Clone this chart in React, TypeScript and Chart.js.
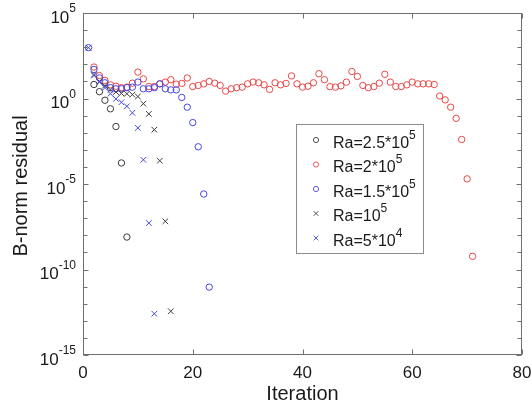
import React, { useEffect, useRef } from 'react';
import { Chart, registerables } from 'chart.js';

Chart.register(...registerables);

// ---------- data ----------
const iterRa25e5 = [2, 3, 4, 5, 6, 7, 8];
const resRa25e5 = [6.6, 2.5, 0.79, 0.25, 0.023, 1.7e-4, 7.9e-9];

const iterRa2e5 = [
  2, 3, 4, 5, 6, 7, 8, 9, 10, 11,
  12, 13, 14, 15, 16, 17, 18, 19, 20, 21,
  22, 23, 24, 25, 26, 27, 28, 29, 30, 31,
  32, 33, 34, 35, 36, 37, 38, 39, 40, 41,
  42, 43, 44, 45, 46, 47, 48, 49, 50, 51,
  52, 53, 54, 55, 56, 57, 58, 59, 60, 61,
  62, 63, 64, 65, 66, 67, 68, 69, 70, 71,
];
const resRa2e5 = [
  69, 22, 11.5, 6.3, 5.2, 4.3, 4.6, 7.9, 35, 14,
  5.0, 5.0, 7.2, 9.1, 12.6, 6.9, 7.6, 15.8, 5.0, 5.8,
  7.2, 10, 7.9, 5.8, 2.7, 3.7, 4.3, 4.6, 7.2, 9.1,
  8.3, 6.3, 3.4, 8.3, 6.3, 7.6, 21, 7.2, 4.6, 5.2,
  8.3, 28, 12.6, 4.9, 4.6, 5.5, 9.1, 38, 19.5, 5.8,
  4.3, 5.0, 7.9, 26, 9.1, 5.0, 5.0, 6.3, 9.1, 7.2,
  7.2, 7.2, 6.6, 1.4, 0.83, 0.31, 0.069, 0.004, 2.0e-5, 5.9e-10,
];

const iterRa15e5 = [1, 2, 3, 4, 5, 6, 7, 8, 9, 10, 11, 12, 13, 14, 15, 16, 17, 18, 19, 20, 21, 22, 23];
const resRa15e5 = [
  940, 50, 16, 8.3, 4.3, 3.7, 3.7, 4.3, 4.6, 9.1,
  3.7, 3.7, 4.3, 7.2, 3.7, 3.2, 3.2, 1.15, 0.31, 0.039,
  1.5e-3, 2.6e-6, 9.3e-12,
];

const iterRa1e5 = [2, 3, 4, 5, 6, 7, 8, 9, 10, 11, 12, 13, 14, 15, 16];
const resRa1e5 = [25, 10, 5.6, 3.2, 2.4, 2.0, 1.9, 1.7, 1.3, 0.5, 0.126, 0.015, 2.3e-4, 6.6e-8, 3.6e-13];

const iterRa5e4 = [1, 2, 3, 4, 5, 6, 7, 8, 9, 10, 11, 12, 13];
const resRa5e4 = [940, 22, 9.1, 4.3, 1.9, 0.95, 0.6, 0.35, 0.145, 0.019, 2.6e-4, 5.2e-8, 2.6e-13];

const seriesLabels = ['Ra=2.5*10^5', 'Ra=2*10^5', 'Ra=1.5*10^5', 'Ra=10^5', 'Ra=5*10^4'];
const xTickValues = [0, 20, 40, 60, 80];
const yTickExponents = [5, 0, -5, -10, -15];
const xTitle = 'Iteration';
const yTitle = 'B-norm residual';

// ---------- styles ----------
const FONT = '"Liberation Sans", Arial, Helvetica, sans-serif';
const TEXT = '#1a1a1a';
const AXIS = '#6e6e6e';
const BLACK = 'rgb(60,60,60)';
const RED = 'rgb(232,70,70)';
const BLUE = 'rgb(70,70,232)';

const seriesStyles = [
  { color: BLACK, style: 'circle' },
  { color: RED, style: 'circle' },
  { color: BLUE, style: 'circle' },
  { color: BLACK, style: 'crossRot' },
  { color: BLUE, style: 'crossRot' },
];

const seriesData = [
  [iterRa25e5, resRa25e5],
  [iterRa2e5, resRa2e5],
  [iterRa15e5, resRa15e5],
  [iterRa1e5, resRa1e5],
  [iterRa5e4, resRa5e4],
];

function drawSupText(ctx: CanvasRenderingContext2D, base: string, sup: string, x: number, y: number, baseSize: number, supSize: number, align: 'left' | 'right', supRaise: number) {
  ctx.textBaseline = 'middle';
  ctx.textAlign = 'left';
  ctx.font = `${baseSize}px ${FONT}`;
  const bw = ctx.measureText(base).width;
  ctx.font = `${supSize}px ${FONT}`;
  const sw = ctx.measureText(sup).width;
  const startX = align === 'left' ? x : x - bw - sw;
  ctx.font = `${baseSize}px ${FONT}`;
  ctx.fillText(base, startX, y);
  ctx.font = `${supSize}px ${FONT}`;
  ctx.fillText(sup, startX + bw, y - supRaise);
}

const matlabPlugin = {
  id: 'matlabAxes',
  afterDraw(chart: any) {
    const ctx: CanvasRenderingContext2D = chart.ctx;
    const xs = chart.scales.x;
    const ys = chart.scales.y;
    const { left, right, top, bottom } = chart.chartArea;
    const L = Math.round(left) + 0.5;
    const R = Math.round(right) - 0.5;
    const T = Math.round(top) + 0.5;
    const B = Math.round(bottom) - 0.5;
    ctx.save();

    // ticks
    ctx.strokeStyle = AXIS;
    ctx.lineWidth = 1;
    ctx.beginPath();
    xTickValues.forEach((v) => {
      const px = Math.round(xs.getPixelForValue(v)) + 0.5;
      ctx.moveTo(px, B); ctx.lineTo(px, B - 5);
      ctx.moveTo(px, T); ctx.lineTo(px, T + 5);
    });
    for (let e = -15; e <= 5; e++) {
      const py = Math.round(ys.getPixelForValue(Math.pow(10, e))) + 0.5;
      const len = e % 5 === 0 ? 5 : 4;
      ctx.moveTo(L, py); ctx.lineTo(L + len, py);
      ctx.moveTo(R, py); ctx.lineTo(R - len, py);
    }
    ctx.stroke();

    // box
    ctx.strokeRect(L, T, R - L, B - T);

    // x tick labels
    ctx.fillStyle = TEXT;
    ctx.font = `17px ${FONT}`;
    ctx.textAlign = 'center';
    ctx.textBaseline = 'middle';
    xTickValues.forEach((v) => {
      ctx.fillText(String(v), xs.getPixelForValue(v), bottom + 18);
    });

    // y tick labels
    yTickExponents.forEach((e) => {
      const py = ys.getPixelForValue(Math.pow(10, e));
      drawSupText(ctx, '10', String(e), left - 7, py + 5, 17, 12, 'right', 9);
    });

    // axis titles
    ctx.font = `20px ${FONT}`;
    ctx.textAlign = 'center';
    ctx.textBaseline = 'middle';
    ctx.fillText(xTitle, (left + right) / 2, 394);
    ctx.save();
    ctx.translate(21, (top + bottom) / 2 + 2);
    ctx.rotate(-Math.PI / 2);
    ctx.fillText(yTitle, 0, 0);
    ctx.restore();

    // legend
    const bx = 296.5, by = 124.5, bw = 127, bh = 129;
    ctx.fillStyle = '#ffffff';
    ctx.fillRect(bx, by, bw, bh);
    ctx.strokeStyle = '#8c8c8c';
    ctx.lineWidth = 1;
    ctx.strokeRect(bx, by, bw, bh);
    seriesLabels.forEach((lab, i) => {
      const cy = 141.5 + i * 24.5;
      const st = seriesStyles[i];
      const mx = 316, my = cy - 1.5;
      ctx.strokeStyle = st.color;
      ctx.lineWidth = 0.9;
      ctx.beginPath();
      if (st.style === 'circle') {
        ctx.arc(mx, my, 2.6, 0, Math.PI * 2);
      } else {
        ctx.moveTo(mx - 2.3, my - 2.3); ctx.lineTo(mx + 2.3, my + 2.3);
        ctx.moveTo(mx + 2.3, my - 2.3); ctx.lineTo(mx - 2.3, my + 2.3);
      }
      ctx.stroke();
      const [base, sup] = lab.split('^');
      ctx.fillStyle = TEXT;
      drawSupText(ctx, base, sup, 333, cy + 2, 16, 12, 'left', 8);
    });

    ctx.restore();
  },
};

export default function App() {
  const canvasRef = useRef<HTMLCanvasElement | null>(null);

  useEffect(() => {
    const canvas = canvasRef.current;
    if (!canvas) return;
    const datasets = seriesData.map(([xsArr, ysArr], i) => ({
      label: seriesLabels[i],
      data: xsArr.map((x, k) => ({ x, y: ysArr[k] })),
      showLine: false,
      pointStyle: seriesStyles[i].style,
      pointRadius: seriesStyles[i].style === 'circle' ? 3.2 : 4,
      pointHoverRadius: seriesStyles[i].style === 'circle' ? 3.2 : 4,
      borderColor: seriesStyles[i].color,
      backgroundColor: 'rgba(0,0,0,0)',
      pointBorderWidth: 1,
      borderWidth: 1,
      order: 4 - i,
    }));
    const chart = new Chart(canvas, {
      type: 'scatter',
      data: { datasets } as any,
      options: {
        animation: false,
        responsive: false,
        devicePixelRatio: 1,
        events: [],
        layout: { padding: { left: 0, top: 13, right: 10, bottom: 0 } },
        plugins: { legend: { display: false }, tooltip: { enabled: false }, title: { display: false } },
        scales: {
          x: {
            type: 'linear',
            min: 0,
            max: 80,
            grid: { display: false },
            border: { display: false },
            ticks: { display: false },
            afterFit: (s: any) => { s.height = 58; s.paddingLeft = 0; s.paddingRight = 0; },
          },
          y: {
            type: 'logarithmic',
            min: 1e-15,
            max: 1e5,
            grid: { display: false },
            border: { display: false },
            ticks: { display: false },
            afterFit: (s: any) => { s.width = 83; s.paddingTop = 0; s.paddingBottom = 0; },
          },
        },
      } as any,
      plugins: [matlabPlugin],
    });
    return () => chart.destroy();
  }, []);

  return (
    <canvas
      ref={canvasRef}
      width={532}
      height={413}
      style={{ display: 'block', position: 'absolute', left: 0, top: 0, width: 532, height: 413 }}
    />
  );
}
